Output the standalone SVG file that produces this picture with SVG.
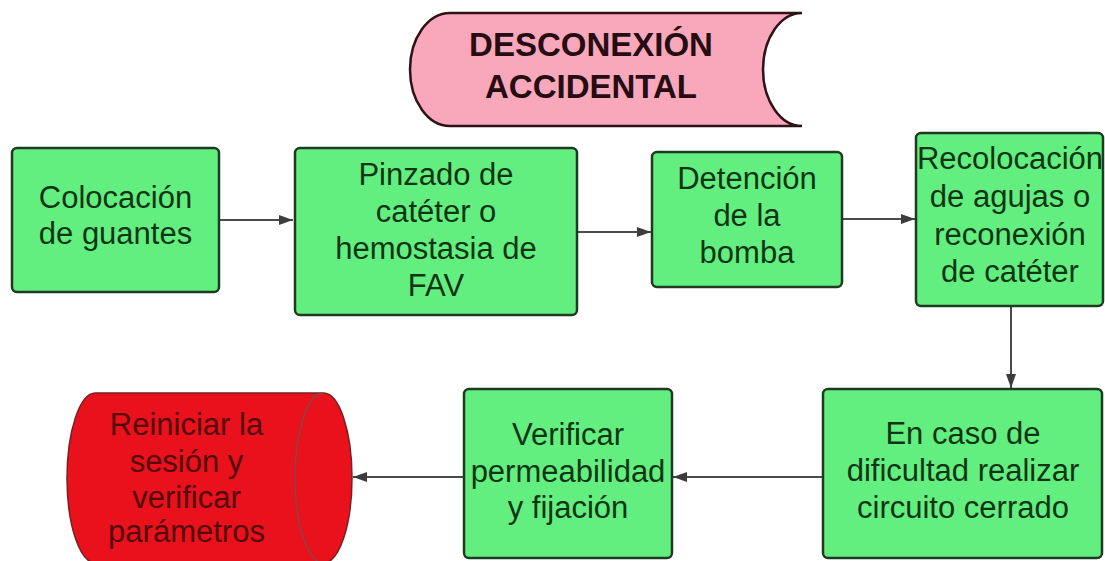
<svg xmlns="http://www.w3.org/2000/svg" width="1105" height="561" viewBox="0 0 1105 561">
<defs>
<style>
.box{fill:#63ef7f;stroke:#1e3a23;stroke-width:2.5}
.t{font-family:"Liberation Sans",Arial,sans-serif;font-size:31px;fill:#0f3516;text-anchor:middle}
.title{font-family:"Liberation Sans",Arial,sans-serif;font-size:33px;font-weight:bold;fill:#260c13;text-anchor:middle}
.red{font-family:"Liberation Sans",Arial,sans-serif;font-size:31px;fill:#520a0d;text-anchor:middle}
.conn{stroke:#4a4a4a;stroke-width:2;fill:none;marker-end:url(#ah)}
</style>
<marker id="ah" markerUnits="userSpaceOnUse" markerWidth="15" markerHeight="11" refX="14" refY="5" orient="auto">
<path d="M0,0 L14,5 L0,10 Z" fill="#3c3c3c"/>
</marker>
</defs>
<rect width="1105" height="561" fill="#ffffff"/>

<g id="title">
<path d="M450,13 L802,13 A39,56.5 0 0 0 802,126 L450,126 A40,56.5 0 0 1 450,13 Z" fill="#f9a8bb" stroke="#2e1218" stroke-width="2.5"/>
<text class="title" x="591" y="56">DESCONEXIÓN</text>
<text class="title" x="591" y="98">ACCIDENTAL</text>
</g>

<g id="connectors">
<line class="conn" x1="219" y1="220" x2="293" y2="220"/>
<line class="conn" x1="577" y1="232" x2="651" y2="232"/>
<line class="conn" x1="842" y1="219" x2="915" y2="219"/>
<line class="conn" x1="1011" y1="306" x2="1011" y2="388"/>
<line class="conn" x1="823" y1="477" x2="673" y2="477"/>
<line class="conn" x1="464" y1="477" x2="353" y2="477"/>
</g>

<g id="n1">
<rect class="box" x="12" y="148" width="207" height="144" rx="5"/>
<text class="t" x="115.5" y="208">Colocación</text>
<text class="t" x="115.5" y="244">de guantes</text>
</g>

<g id="n2">
<rect class="box" x="295" y="148" width="282" height="167" rx="5"/>
<text class="t" x="436" y="185">Pinzado de</text>
<text class="t" x="436" y="222">catéter o</text>
<text class="t" x="436" y="259">hemostasia de</text>
<text class="t" x="436" y="296">FAV</text>
</g>

<g id="n3">
<rect class="box" x="652" y="152" width="190" height="135" rx="5"/>
<text class="t" x="747" y="189">Detención</text>
<text class="t" x="747" y="226">de la</text>
<text class="t" x="747" y="263">bomba</text>
</g>

<g id="n4">
<rect class="box" x="916" y="133" width="187" height="173" rx="5"/>
<text class="t" x="1010" y="169">Recolocación</text>
<text class="t" x="1010" y="207">de agujas o</text>
<text class="t" x="1010" y="245">reconexión</text>
<text class="t" x="1010" y="282">de catéter</text>
</g>

<g id="n5">
<rect class="box" x="823" y="389" width="279" height="169" rx="5"/>
<text class="t" x="963" y="444">En caso de</text>
<text class="t" x="963" y="481">dificultad realizar</text>
<text class="t" x="963" y="518">circuito cerrado</text>
</g>

<g id="n6">
<rect class="box" x="464" y="389" width="208" height="169" rx="5"/>
<text class="t" x="568" y="445">Verificar</text>
<text class="t" x="568" y="482">permeabilidad</text>
<text class="t" x="568" y="518">y fijación</text>
</g>

<g id="n7">
<path d="M95.5,393 L323.5,393 A28.5,85 0 0 1 323.5,563 L95.5,563 A28.5,85 0 0 1 95.5,393 Z" fill="#e8111c" stroke="#7a2020" stroke-width="1.5"/>
<path d="M323.5,393 A28.5,85 0 0 0 323.5,563" fill="none" stroke="#8a4545" stroke-width="1.5"/>
<text class="red" x="186.5" y="435">Reiniciar la</text>
<text class="red" x="186.5" y="472">sesión y</text>
<text class="red" x="186.5" y="508">verificar</text>
<text class="red" x="186.5" y="542">parámetros</text>
</g>
</svg>
